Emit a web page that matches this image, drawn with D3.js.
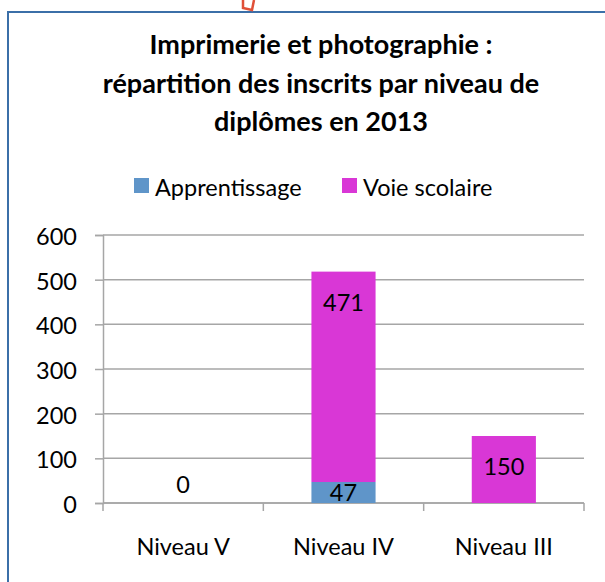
<!DOCTYPE html>
<html>
<head>
<meta charset="utf-8">
<script src="https://cdn.jsdelivr.net/npm/d3@7"></script>
<style>
  body { margin: 0; background: #fff; }
  svg text { font-family: Lato, "Open Sans", sans-serif; fill: #000; }
</style>
</head>
<body>
<svg id="chart" width="605" height="582"></svg>
<script>
// data
var categories = ['Niveau V', 'Niveau IV', 'Niveau III'];
var apprentissage = [0, 47, 0];
var voieScolaire = [0, 471, 150];
var yTicks = [0, 100, 200, 300, 400, 500, 600];
var seriesNames = ['Apprentissage', 'Voie scolaire'];
var seriesColors = ['#5f95c9', '#d937d6'];
var titleLines = ['Imprimerie et photographie :', 'répartition des inscrits par niveau de', 'diplômes en 2013'];

var svg = d3.select('#chart');
var fontSize = '23.5px';

// chart frame (only top and left edges are visible)
svg.append('path')
    .attr('d', 'M8,600 L8,12 L610,12')
    .attr('fill', 'none')
    .attr('stroke', '#3b6fa8')
    .attr('stroke-width', 2);

// little red mark sticking out above the frame
svg.append('path')
    .attr('d', 'M243,0 L243,8 L252,10 L254,0')
    .attr('fill', 'none')
    .attr('stroke', '#e05038')
    .attr('stroke-width', 2.5);

// title
svg.append('text')
    .attr('text-anchor', 'middle')
    .style('font-weight', 'bold')
    .style('font-size', '27px')
    .selectAll('tspan')
    .data(titleLines)
    .enter().append('tspan')
    .attr('x', 321)
    .attr('y', (d, i) => 54 + i * 38.5)
    .text(d => d);

// legend
var legendX = [134, 342];
var legend = svg.selectAll('.legend')
    .data(seriesNames)
    .enter().append('g')
    .attr('class', 'legend')
    .attr('transform', (d, i) => 'translate(' + legendX[i] + ',178)');
legend.append('rect')
    .attr('width', 15).attr('height', 15)
    .attr('fill', (d, i) => seriesColors[i]);
legend.append('text')
    .attr('x', 21).attr('y', 18)
    .style('font-size', fontSize)
    .text(d => d);

// scales
var y = d3.scaleLinear().domain([0, 600]).range([503, 235]);
var x = d3.scaleBand().domain(categories).range([103, 584])
    .paddingInner(0.6).paddingOuter(0.3);

// gridlines
svg.append('g')
    .selectAll('line')
    .data(yTicks)
    .enter().append('line')
    .attr('x1', 103).attr('x2', 584)
    .attr('y1', d => y(d)).attr('y2', d => y(d))
    .attr('stroke', '#a6a6a6')
    .attr('stroke-width', 1.5);

// y axis
var yAxis = svg.append('g')
    .attr('transform', 'translate(103,0)')
    .call(d3.axisLeft(y).tickValues(yTicks).tickSize(8).tickPadding(18));
yAxis.attr('font-size', null).attr('font-family', null);
yAxis.select('.domain').attr('stroke', '#a6a6a6').attr('stroke-width', 1.5);
yAxis.selectAll('.tick line').attr('stroke', '#a6a6a6').attr('stroke-width', 1.5);
yAxis.selectAll('.tick text')
    .style('font-size', fontSize)
    .attr('dy', '0.4em');

// x axis: ticks at band boundaries
var step = x.step();
var gap = (step - x.bandwidth()) / 2;
var boundaries = categories.map(c => x(c) - gap).concat([x.range()[1]]);
svg.append('line')
    .attr('x1', 103).attr('x2', 584)
    .attr('y1', y(0)).attr('y2', y(0))
    .attr('stroke', '#a6a6a6').attr('stroke-width', 1.5);
svg.append('g')
    .selectAll('line')
    .data(boundaries)
    .enter().append('line')
    .attr('x1', d => d).attr('x2', d => d)
    .attr('y1', y(0)).attr('y2', y(0) + 8)
    .attr('stroke', '#a6a6a6').attr('stroke-width', 1.5);
svg.append('g')
    .selectAll('text')
    .data(categories)
    .enter().append('text')
    .attr('x', d => x(d) + x.bandwidth() / 2)
    .attr('y', 555)
    .attr('text-anchor', 'middle')
    .style('font-size', fontSize)
    .text(d => d);

// stacked bars
var rows = categories.map((c, i) => ({cat: c, Apprentissage: apprentissage[i], 'Voie scolaire': voieScolaire[i]}));
var stacked = d3.stack().keys(seriesNames)(rows);

svg.append('g')
    .selectAll('g')
    .data(stacked)
    .enter().append('g')
    .attr('fill', (d, i) => seriesColors[i])
    .selectAll('rect')
    .data(d => d)
    .enter().append('rect')
    .attr('x', d => x(d.data.cat))
    .attr('width', x.bandwidth())
    .attr('y', d => y(d[1]))
    .attr('height', d => y(d[0]) - y(d[1]));

// value labels (Excel style: near the top of each segment, clipped to plot area)
svg.append('clipPath').attr('id', 'plotClip')
    .append('rect').attr('x', 103).attr('y', 200).attr('width', 481).attr('height', y(0) - 200);

var labels = [];
stacked.forEach(function(s) {
    s.forEach(function(d) {
        var v = d[1] - d[0];
        // show the zero only once (Niveau V), skip empty pink segments
        if (v === 0 && !(s.key === 'Apprentissage' && d.data.cat === 'Niveau V')) return;
        var cy;
        if (v === 0) cy = y(d[0]) - 18;
        else cy = Math.min(y(d[1]) + 31, y(0) - 10);
        labels.push({x: x(d.data.cat) + x.bandwidth() / 2, y: cy, v: v});
    });
});
svg.append('g')
    .attr('clip-path', 'url(#plotClip)')
    .selectAll('text')
    .data(labels)
    .enter().append('text')
    .attr('x', d => d.x)
    .attr('y', d => d.y)
    .attr('dy', '0.36em')
    .attr('text-anchor', 'middle')
    .style('font-size', fontSize)
    .text(d => d.v);
</script>
</body>
</html>
